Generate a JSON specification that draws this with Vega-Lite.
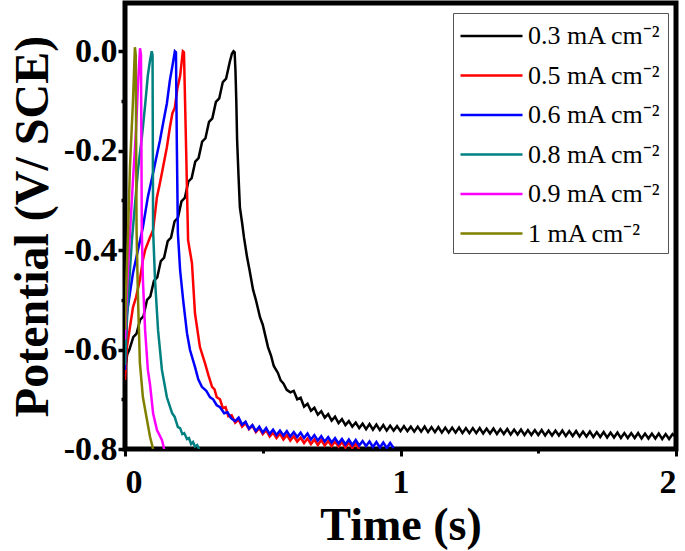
{
  "$schema": "https://vega.github.io/schema/vega-lite/v6.json",
  "autosize": {"type": "none"},
  "width": 551,
  "height": 446,
  "padding": {"left": 125, "top": 3, "right": 9, "bottom": 102},
  "background": "white",
  "config": {
    "font": "Liberation Serif",
    "view": {"stroke": "black", "strokeWidth": 5},
    "axis": {"domain": false, "grid": false, "tickColor": "black", "labelColor": "black", "titleColor": "black",
      "labelFont": "Liberation Serif", "labelFontWeight": "bold", "labelFontSize": 34,
      "titleFont": "Liberation Serif", "titleFontWeight": "bold", "titleFontSize": 46}
  },
  "data": {"values": [
    {"c":0.3,"t":0,"v":-0.64},{"c":0.3,"t":0.008,"v":-0.61},{"c":0.3,"t":0.016,"v":-0.6},{"c":0.3,"t":0.03,"v":-0.575},{"c":0.3,"t":0.042,"v":-0.568},{"c":0.3,"t":0.055,"v":-0.54},{"c":0.3,"t":0.067,"v":-0.533},{"c":0.3,"t":0.08,"v":-0.5},{"c":0.3,"t":0.092,"v":-0.493},{"c":0.3,"t":0.105,"v":-0.462},{"c":0.3,"t":0.117,"v":-0.455},{"c":0.3,"t":0.13,"v":-0.422},{"c":0.3,"t":0.142,"v":-0.415},{"c":0.3,"t":0.155,"v":-0.382},{"c":0.3,"t":0.167,"v":-0.375},{"c":0.3,"t":0.18,"v":-0.342},{"c":0.3,"t":0.192,"v":-0.335},{"c":0.3,"t":0.205,"v":-0.302},{"c":0.3,"t":0.217,"v":-0.295},{"c":0.3,"t":0.23,"v":-0.262},{"c":0.3,"t":0.242,"v":-0.255},{"c":0.3,"t":0.255,"v":-0.222},{"c":0.3,"t":0.267,"v":-0.215},{"c":0.3,"t":0.28,"v":-0.182},{"c":0.3,"t":0.292,"v":-0.175},{"c":0.3,"t":0.305,"v":-0.142},{"c":0.3,"t":0.317,"v":-0.135},{"c":0.3,"t":0.33,"v":-0.102},{"c":0.3,"t":0.342,"v":-0.095},{"c":0.3,"t":0.355,"v":-0.062},{"c":0.3,"t":0.367,"v":-0.055},{"c":0.3,"t":0.38,"v":-0.022},{"c":0.3,"t":0.388,"v":-0.005},{"c":0.3,"t":0.394,"v":0},{"c":0.3,"t":0.398,"v":-0.002},{"c":0.3,"t":0.401,"v":-0.04},{"c":0.3,"t":0.404,"v":-0.1},{"c":0.3,"t":0.407,"v":-0.179},{"c":0.3,"t":0.412,"v":-0.25},{"c":0.3,"t":0.417,"v":-0.314},{"c":0.3,"t":0.425,"v":-0.345},{"c":0.3,"t":0.432,"v":-0.375},{"c":0.3,"t":0.443,"v":-0.414},{"c":0.3,"t":0.452,"v":-0.44},{"c":0.3,"t":0.465,"v":-0.48},{"c":0.3,"t":0.475,"v":-0.5},{"c":0.3,"t":0.49,"v":-0.535},{"c":0.3,"t":0.5,"v":-0.55},{"c":0.3,"t":0.519,"v":-0.595},{"c":0.3,"t":0.53,"v":-0.612},{"c":0.3,"t":0.54,"v":-0.633},{"c":0.3,"t":0.555,"v":-0.647},{"c":0.3,"t":0.565,"v":-0.662},{"c":0.3,"t":0.575,"v":-0.668},{"c":0.3,"t":0.587,"v":-0.681},
    {"c":0.3,"t":0.6,"v":-0.686},{"c":0.3,"t":0.6125,"v":-0.683},{"c":0.3,"t":0.625,"v":-0.7},{"c":0.3,"t":0.6375,"v":-0.697},{"c":0.3,"t":0.65,"v":-0.715},{"c":0.3,"t":0.6625,"v":-0.709},{"c":0.3,"t":0.675,"v":-0.723},{"c":0.3,"t":0.6875,"v":-0.717},{"c":0.3,"t":0.7,"v":-0.731},{"c":0.3,"t":0.7125,"v":-0.724},{"c":0.3,"t":0.725,"v":-0.737},{"c":0.3,"t":0.7375,"v":-0.73},{"c":0.3,"t":0.75,"v":-0.743},{"c":0.3,"t":0.7625,"v":-0.735},{"c":0.3,"t":0.775,"v":-0.748},{"c":0.3,"t":0.7875,"v":-0.74},{"c":0.3,"t":0.8,"v":-0.752},{"c":0.3,"t":0.8125,"v":-0.744},{"c":0.3,"t":0.825,"v":-0.755},{"c":0.3,"t":0.8375,"v":-0.747},{"c":0.3,"t":0.85,"v":-0.758},{"c":0.3,"t":0.8625,"v":-0.749},{"c":0.3,"t":0.875,"v":-0.76},{"c":0.3,"t":0.8875,"v":-0.75},{"c":0.3,"t":0.9,"v":-0.761},{"c":0.3,"t":0.9125,"v":-0.751},{"c":0.3,"t":0.925,"v":-0.762},{"c":0.3,"t":0.9375,"v":-0.752},{"c":0.3,"t":0.95,"v":-0.763},{"c":0.3,"t":0.9625,"v":-0.753},{"c":0.3,"t":0.975,"v":-0.763},{"c":0.3,"t":0.9875,"v":-0.754},
    {"c":0.3,"t":1.0,"v":-0.764},{"c":0.3,"t":1.0125,"v":-0.754},{"c":0.3,"t":1.025,"v":-0.764},{"c":0.3,"t":1.0375,"v":-0.755},{"c":0.3,"t":1.05,"v":-0.765},{"c":0.3,"t":1.0625,"v":-0.755},{"c":0.3,"t":1.075,"v":-0.765},{"c":0.3,"t":1.0875,"v":-0.755},{"c":0.3,"t":1.1,"v":-0.766},{"c":0.3,"t":1.1125,"v":-0.756},{"c":0.3,"t":1.125,"v":-0.766},{"c":0.3,"t":1.1375,"v":-0.756},{"c":0.3,"t":1.15,"v":-0.767},{"c":0.3,"t":1.1625,"v":-0.757},{"c":0.3,"t":1.175,"v":-0.767},{"c":0.3,"t":1.1875,"v":-0.757},{"c":0.3,"t":1.2,"v":-0.767},{"c":0.3,"t":1.2125,"v":-0.757},{"c":0.3,"t":1.225,"v":-0.768},{"c":0.3,"t":1.2375,"v":-0.758},{"c":0.3,"t":1.25,"v":-0.768},{"c":0.3,"t":1.2625,"v":-0.758},{"c":0.3,"t":1.275,"v":-0.768},{"c":0.3,"t":1.2875,"v":-0.758},{"c":0.3,"t":1.3,"v":-0.769},{"c":0.3,"t":1.3125,"v":-0.759},{"c":0.3,"t":1.325,"v":-0.769},{"c":0.3,"t":1.3375,"v":-0.759},{"c":0.3,"t":1.35,"v":-0.77},{"c":0.3,"t":1.3625,"v":-0.76},{"c":0.3,"t":1.375,"v":-0.77},{"c":0.3,"t":1.3875,"v":-0.76},{"c":0.3,"t":1.4,"v":-0.771},{"c":0.3,"t":1.4125,"v":-0.761},{"c":0.3,"t":1.425,"v":-0.771},{"c":0.3,"t":1.4375,"v":-0.761},{"c":0.3,"t":1.45,"v":-0.772},{"c":0.3,"t":1.4625,"v":-0.762},{"c":0.3,"t":1.475,"v":-0.772},{"c":0.3,"t":1.4875,"v":-0.762},{"c":0.3,"t":1.5,"v":-0.772},{"c":0.3,"t":1.5125,"v":-0.762},{"c":0.3,"t":1.525,"v":-0.773},{"c":0.3,"t":1.5375,"v":-0.763},{"c":0.3,"t":1.55,"v":-0.773},{"c":0.3,"t":1.5625,"v":-0.763},{"c":0.3,"t":1.575,"v":-0.773},{"c":0.3,"t":1.5875,"v":-0.763},{"c":0.3,"t":1.6,"v":-0.774},{"c":0.3,"t":1.6125,"v":-0.764},{"c":0.3,"t":1.625,"v":-0.774},{"c":0.3,"t":1.6375,"v":-0.764},{"c":0.3,"t":1.65,"v":-0.775},{"c":0.3,"t":1.6625,"v":-0.765},{"c":0.3,"t":1.675,"v":-0.775},{"c":0.3,"t":1.6875,"v":-0.765},{"c":0.3,"t":1.7,"v":-0.776},{"c":0.3,"t":1.7125,"v":-0.766},{"c":0.3,"t":1.725,"v":-0.776},{"c":0.3,"t":1.7375,"v":-0.766},{"c":0.3,"t":1.75,"v":-0.777},{"c":0.3,"t":1.7625,"v":-0.767},{"c":0.3,"t":1.775,"v":-0.777},{"c":0.3,"t":1.7875,"v":-0.767},{"c":0.3,"t":1.8,"v":-0.778},{"c":0.3,"t":1.8125,"v":-0.768},{"c":0.3,"t":1.825,"v":-0.778},{"c":0.3,"t":1.8375,"v":-0.768},{"c":0.3,"t":1.85,"v":-0.778},{"c":0.3,"t":1.8625,"v":-0.768},{"c":0.3,"t":1.875,"v":-0.779},{"c":0.3,"t":1.8875,"v":-0.769},{"c":0.3,"t":1.9,"v":-0.779},{"c":0.3,"t":1.9125,"v":-0.769},{"c":0.3,"t":1.925,"v":-0.779},{"c":0.3,"t":1.9375,"v":-0.769},{"c":0.3,"t":1.95,"v":-0.78},{"c":0.3,"t":1.9625,"v":-0.77},{"c":0.3,"t":1.975,"v":-0.78},{"c":0.3,"t":1.9875,"v":-0.77},{"c":0.3,"t":2.0,"v":-0.776},
    {"c":0.5,"t":0,"v":-0.661},{"c":0.5,"t":0.007,"v":-0.595},{"c":0.5,"t":0.018,"v":-0.555},{"c":0.5,"t":0.029,"v":-0.515},{"c":0.5,"t":0.04,"v":-0.495},{"c":0.5,"t":0.054,"v":-0.46},{"c":0.5,"t":0.065,"v":-0.42},{"c":0.5,"t":0.073,"v":-0.4},{"c":0.5,"t":0.09,"v":-0.375},{"c":0.5,"t":0.102,"v":-0.36},{"c":0.5,"t":0.116,"v":-0.293},{"c":0.5,"t":0.125,"v":-0.27},{"c":0.5,"t":0.134,"v":-0.245},{"c":0.5,"t":0.152,"v":-0.193},{"c":0.5,"t":0.163,"v":-0.153},{"c":0.5,"t":0.172,"v":-0.125},{"c":0.5,"t":0.181,"v":-0.113},{"c":0.5,"t":0.19,"v":-0.075},{"c":0.5,"t":0.2,"v":-0.05},{"c":0.5,"t":0.21,"v":0},{"c":0.5,"t":0.214,"v":-0.002},{"c":0.5,"t":0.222,"v":-0.2},{"c":0.5,"t":0.229,"v":-0.38},{"c":0.5,"t":0.243,"v":-0.426},{"c":0.5,"t":0.254,"v":-0.527},{"c":0.5,"t":0.272,"v":-0.595},{"c":0.5,"t":0.29,"v":-0.627},{"c":0.5,"t":0.303,"v":-0.652},{"c":0.5,"t":0.316,"v":-0.675},{"c":0.5,"t":0.325,"v":-0.68},{"c":0.5,"t":0.333,"v":-0.696},{"c":0.5,"t":0.345,"v":-0.7},{"c":0.5,"t":0.355,"v":-0.718},{"c":0.5,"t":0.365,"v":-0.716},{"c":0.5,"t":0.375,"v":-0.734},{"c":0.5,"t":0.387,"v":-0.732},
    {"c":0.5,"t":0.4,"v":-0.747},{"c":0.5,"t":0.4125,"v":-0.741},{"c":0.5,"t":0.425,"v":-0.755},{"c":0.5,"t":0.4375,"v":-0.748},{"c":0.5,"t":0.45,"v":-0.76},{"c":0.5,"t":0.4625,"v":-0.753},{"c":0.5,"t":0.475,"v":-0.766},{"c":0.5,"t":0.4875,"v":-0.758},{"c":0.5,"t":0.5,"v":-0.77},{"c":0.5,"t":0.5125,"v":-0.762},{"c":0.5,"t":0.525,"v":-0.775},{"c":0.5,"t":0.5375,"v":-0.767},{"c":0.5,"t":0.55,"v":-0.778},{"c":0.5,"t":0.5625,"v":-0.769},{"c":0.5,"t":0.575,"v":-0.781},{"c":0.5,"t":0.5875,"v":-0.772},{"c":0.5,"t":0.6,"v":-0.783},{"c":0.5,"t":0.6125,"v":-0.774},{"c":0.5,"t":0.625,"v":-0.785},{"c":0.5,"t":0.6375,"v":-0.777},{"c":0.5,"t":0.65,"v":-0.788},{"c":0.5,"t":0.6625,"v":-0.779},{"c":0.5,"t":0.675,"v":-0.79},{"c":0.5,"t":0.6875,"v":-0.781},{"c":0.5,"t":0.7,"v":-0.792},{"c":0.5,"t":0.7125,"v":-0.782},{"c":0.5,"t":0.725,"v":-0.793},{"c":0.5,"t":0.7375,"v":-0.784},{"c":0.5,"t":0.75,"v":-0.794},{"c":0.5,"t":0.7625,"v":-0.785},{"c":0.5,"t":0.775,"v":-0.795},{"c":0.5,"t":0.7875,"v":-0.786},{"c":0.5,"t":0.8,"v":-0.797},{"c":0.5,"t":0.8125,"v":-0.787},{"c":0.5,"t":0.825,"v":-0.798},{"c":0.5,"t":0.8375,"v":-0.789},{"c":0.5,"t":0.85,"v":-0.8},
    {"c":0.6,"t":0,"v":-0.641},{"c":0.6,"t":0.002,"v":-0.581},{"c":0.6,"t":0.007,"v":-0.527},{"c":0.6,"t":0.018,"v":-0.486},{"c":0.6,"t":0.029,"v":-0.446},{"c":0.6,"t":0.047,"v":-0.4},{"c":0.6,"t":0.065,"v":-0.354},{"c":0.6,"t":0.083,"v":-0.293},{"c":0.6,"t":0.102,"v":-0.245},{"c":0.6,"t":0.115,"v":-0.21},{"c":0.6,"t":0.127,"v":-0.179},{"c":0.6,"t":0.14,"v":-0.14},{"c":0.6,"t":0.152,"v":-0.105},{"c":0.6,"t":0.163,"v":-0.058},{"c":0.6,"t":0.172,"v":-0.03},{"c":0.6,"t":0.181,"v":0},{"c":0.6,"t":0.185,"v":-0.002},{"c":0.6,"t":0.188,"v":-0.18},{"c":0.6,"t":0.192,"v":-0.366},{"c":0.6,"t":0.2,"v":-0.44},{"c":0.6,"t":0.211,"v":-0.5},{"c":0.6,"t":0.225,"v":-0.567},{"c":0.6,"t":0.236,"v":-0.601},{"c":0.6,"t":0.254,"v":-0.635},{"c":0.6,"t":0.266,"v":-0.66},{"c":0.6,"t":0.279,"v":-0.675},{"c":0.6,"t":0.295,"v":-0.683},{"c":0.6,"t":0.309,"v":-0.696},{"c":0.6,"t":0.32,"v":-0.7},{"c":0.6,"t":0.333,"v":-0.712},{"c":0.6,"t":0.345,"v":-0.716},{"c":0.6,"t":0.36,"v":-0.728},{"c":0.6,"t":0.372,"v":-0.726},{"c":0.6,"t":0.385,"v":-0.738},
    {"c":0.6,"t":0.4,"v":-0.744},{"c":0.6,"t":0.4125,"v":-0.737},{"c":0.6,"t":0.425,"v":-0.751},{"c":0.6,"t":0.4375,"v":-0.745},{"c":0.6,"t":0.45,"v":-0.759},{"c":0.6,"t":0.4625,"v":-0.752},{"c":0.6,"t":0.475,"v":-0.764},{"c":0.6,"t":0.4875,"v":-0.755},{"c":0.6,"t":0.5,"v":-0.767},{"c":0.6,"t":0.5125,"v":-0.758},{"c":0.6,"t":0.525,"v":-0.77},{"c":0.6,"t":0.5375,"v":-0.761},{"c":0.6,"t":0.55,"v":-0.772},{"c":0.6,"t":0.5625,"v":-0.763},{"c":0.6,"t":0.575,"v":-0.773},{"c":0.6,"t":0.5875,"v":-0.764},{"c":0.6,"t":0.6,"v":-0.775},{"c":0.6,"t":0.6125,"v":-0.766},{"c":0.6,"t":0.625,"v":-0.776},{"c":0.6,"t":0.6375,"v":-0.767},{"c":0.6,"t":0.65,"v":-0.778},{"c":0.6,"t":0.6625,"v":-0.769},{"c":0.6,"t":0.675,"v":-0.781},{"c":0.6,"t":0.6875,"v":-0.772},{"c":0.6,"t":0.7,"v":-0.783},{"c":0.6,"t":0.7125,"v":-0.774},{"c":0.6,"t":0.725,"v":-0.785},{"c":0.6,"t":0.7375,"v":-0.776},{"c":0.6,"t":0.75,"v":-0.787},{"c":0.6,"t":0.7625,"v":-0.778},{"c":0.6,"t":0.775,"v":-0.789},{"c":0.6,"t":0.7875,"v":-0.78},{"c":0.6,"t":0.8,"v":-0.791},{"c":0.6,"t":0.8125,"v":-0.781},{"c":0.6,"t":0.825,"v":-0.792},{"c":0.6,"t":0.8375,"v":-0.782},{"c":0.6,"t":0.85,"v":-0.793},{"c":0.6,"t":0.8625,"v":-0.784},{"c":0.6,"t":0.875,"v":-0.794},{"c":0.6,"t":0.8875,"v":-0.785},{"c":0.6,"t":0.9,"v":-0.796},{"c":0.6,"t":0.9125,"v":-0.786},{"c":0.6,"t":0.925,"v":-0.797},{"c":0.6,"t":0.9375,"v":-0.787},{"c":0.6,"t":0.95,"v":-0.798},{"c":0.6,"t":0.9625,"v":-0.788},{"c":0.6,"t":0.975,"v":-0.798},
    {"c":0.8,"t":0,"v":-0.631},{"c":0.8,"t":0.007,"v":-0.541},{"c":0.8,"t":0.015,"v":-0.466},{"c":0.8,"t":0.025,"v":-0.38},{"c":0.8,"t":0.036,"v":-0.31},{"c":0.8,"t":0.047,"v":-0.239},{"c":0.8,"t":0.062,"v":-0.169},{"c":0.8,"t":0.073,"v":-0.109},{"c":0.8,"t":0.083,"v":-0.048},{"c":0.8,"t":0.091,"v":-0.018},{"c":0.8,"t":0.097,"v":0},{"c":0.8,"t":0.1,"v":-0.008},{"c":0.8,"t":0.102,"v":-0.36},{"c":0.8,"t":0.109,"v":-0.46},{"c":0.8,"t":0.12,"v":-0.561},{"c":0.8,"t":0.134,"v":-0.641},{"c":0.8,"t":0.152,"v":-0.696},{"c":0.8,"t":0.171,"v":-0.728},{"c":0.8,"t":0.18,"v":-0.735},{"c":0.8,"t":0.192,"v":-0.756},{"c":0.8,"t":0.2,"v":-0.758},{"c":0.8,"t":0.208,"v":-0.77},{"c":0.8,"t":0.215,"v":-0.768},{"c":0.8,"t":0.225,"v":-0.78},{"c":0.8,"t":0.232,"v":-0.778},{"c":0.8,"t":0.24,"v":-0.79},{"c":0.8,"t":0.247,"v":-0.786},{"c":0.8,"t":0.254,"v":-0.795},{"c":0.8,"t":0.262,"v":-0.792},{"c":0.8,"t":0.269,"v":-0.8},
    {"c":0.9,"t":0,"v":-0.58},{"c":0.9,"t":0.007,"v":-0.48},{"c":0.9,"t":0.018,"v":-0.366},{"c":0.9,"t":0.029,"v":-0.259},{"c":0.9,"t":0.04,"v":-0.159},{"c":0.9,"t":0.047,"v":-0.068},{"c":0.9,"t":0.0545,"v":0.006},{"c":0.9,"t":0.058,"v":-0.008},{"c":0.9,"t":0.061,"v":-0.36},{"c":0.9,"t":0.065,"v":-0.46},{"c":0.9,"t":0.073,"v":-0.561},{"c":0.9,"t":0.083,"v":-0.641},{"c":0.9,"t":0.091,"v":-0.671},{"c":0.9,"t":0.102,"v":-0.728},{"c":0.9,"t":0.116,"v":-0.762},{"c":0.9,"t":0.134,"v":-0.782},{"c":0.9,"t":0.142,"v":-0.8},
    {"c":1,"t":0,"v":-0.56},{"c":1,"t":0.004,"v":-0.48},{"c":1,"t":0.011,"v":-0.366},{"c":1,"t":0.018,"v":-0.233},{"c":1,"t":0.029,"v":-0.099},{"c":1,"t":0.033,"v":-0.038},{"c":1,"t":0.036,"v":0.008},{"c":1,"t":0.039,"v":-0.008},{"c":1,"t":0.042,"v":-0.36},{"c":1,"t":0.047,"v":-0.494},{"c":1,"t":0.054,"v":-0.627},{"c":1,"t":0.065,"v":-0.696},{"c":1,"t":0.08,"v":-0.742},{"c":1,"t":0.091,"v":-0.776},{"c":1,"t":0.102,"v":-0.8}
  ]},
  "mark": {"type": "line", "strokeWidth": 2.5, "clip": true},
  "encoding": {
    "x": {"field": "t", "type": "quantitative", "scale": {"domain": [0, 2], "nice": false},
      "axis": {"values": [0, 0.5, 1, 1.5, 2], "title": "Time (s)", "titlePadding": 4, "labelPadding": 9,
        "labelExpr": "datum.value % 1 == 0 ? format(datum.value, 'd') : ''",
        "tickWidth": 3, "tickSize": {"condition": {"test": "datum.value % 1 != 0", "value": 4}, "value": 7}}},
    "y": {"field": "v", "type": "quantitative", "scale": {"domain": [-0.8, 0.097], "nice": false, "zero": false},
      "axis": {"values": [-0.8, -0.7, -0.6, -0.5, -0.4, -0.3, -0.2, -0.1, 0], "title": "Potential (V/ SCE)", "titleFontSize": 48, "titlePadding": 6, "labelPadding": 1,
        "labelExpr": "abs(round(datum.value * 10)) % 2 == 1 ? '' : ((datum.value < -0.001 ? '-' : '') + format(abs(datum.value), '.1f'))",
        "tickWidth": 3.5, "tickSize": {"condition": {"test": "abs(round(datum.value * 10)) % 2 == 1", "value": 4}, "value": 7}}},
    "color": {"field": "c", "type": "nominal",
      "scale": {"domain": [0.3, 0.5, 0.6, 0.8, 0.9, 1], "range": ["#000000", "#ff0000", "#0000ff", "#008080", "#ff00ff", "#808000"]},
      "legend": {"title": null, "orient": "none", "legendX": 328, "legendY": 10, "symbolType": "M-1,0H3", "symbolSize": 961, "symbolStrokeWidth": 2.5,
        "labelExpr": "datum.label + ' mA cm⁻²'", "labelFont": "Liberation Serif", "labelFontSize": 26, "labelColor": "black", "labelOffset": 35,
        "strokeColor": "#555555", "fillColor": "white", "padding": 6, "rowPadding": 9.5}}
  }
}
